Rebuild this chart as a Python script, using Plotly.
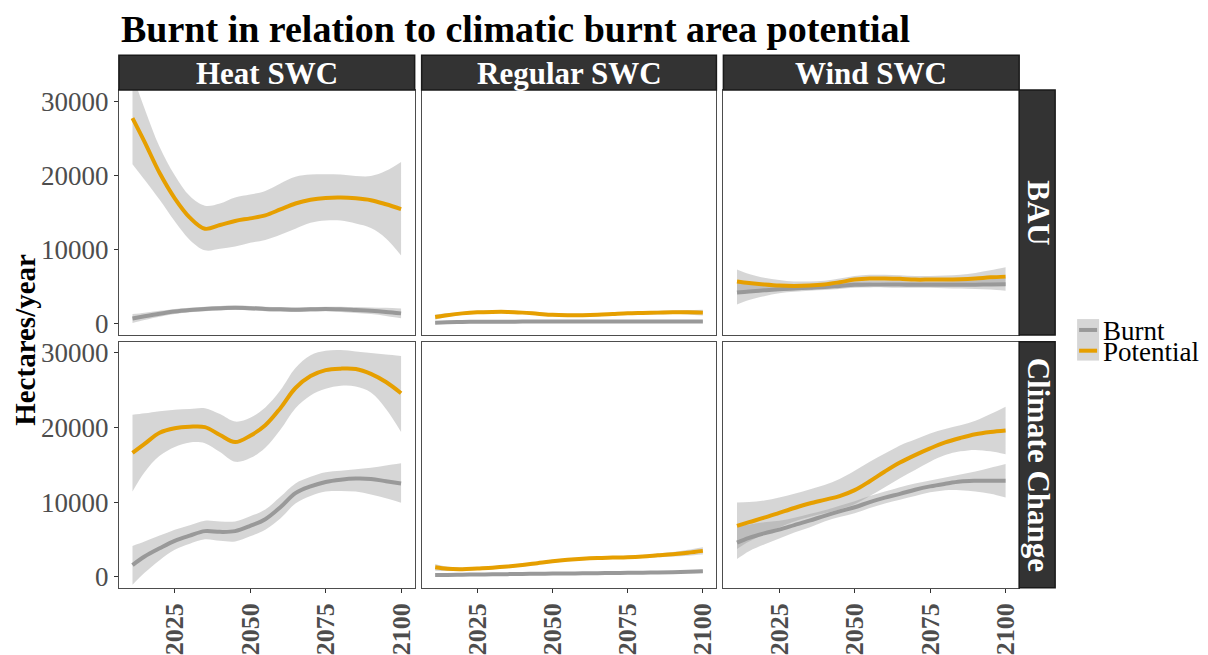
import plotly.graph_objects as go

W, H = 1208, 655
SERIF = "Liberation Serif"

years = [2011, 2015, 2020, 2025, 2030, 2035, 2040, 2045, 2050, 2055,
         2060, 2065, 2070, 2075, 2080, 2085, 2090, 2095, 2100]
strategies = ["Heat SWC", "Regular SWC", "Wind SWC"]
scenarios = ["BAU", "Climate Change"]
series_names = ["Burnt", "Potential"]
x_ticks = [2025, 2050, 2075, 2100]
y_ticks = [0, 10000, 20000, 30000]
y_tick_labels = ["0", "10000", "20000", "30000"]

# --- BAU / Heat SWC
heat_bau_burnt = [700, 1000, 1350, 1650, 1850, 2000, 2100, 2150, 2100, 2000, 1950, 1900, 1950, 2000, 1950, 1850, 1750, 1600, 1400]
heat_bau_burnt_hi = [1300, 1500, 1750, 2000, 2150, 2300, 2400, 2450, 2400, 2300, 2250, 2200, 2250, 2300, 2300, 2250, 2200, 2150, 2050]
heat_bau_burnt_lo = [100, 500, 950, 1300, 1550, 1700, 1800, 1850, 1800, 1700, 1650, 1600, 1650, 1700, 1600, 1450, 1300, 1050, 750]
heat_bau_pot = [27700, 24500, 20300, 16900, 14300, 12800, 13300, 13850, 14200, 14600, 15400, 16200, 16700, 16950, 17000, 16900, 16650, 16100, 15450]
heat_bau_pot_hi = [33500, 29000, 23800, 20000, 17200, 15900, 16200, 17000, 17400, 17900, 18900, 19800, 20100, 20150, 20100, 19900, 19900, 20600, 21800]
heat_bau_pot_lo = [21500, 19400, 16700, 13800, 11300, 9900, 10100, 10400, 10900, 11300, 12000, 12800, 13600, 13900, 13900, 13500, 12900, 11500, 9200]

# --- BAU / Regular SWC
reg_bau_burnt = [150, 200, 250, 270, 280, 285, 290, 290, 290, 290, 290, 290, 290, 295, 295, 300, 300, 300, 300]
reg_bau_burnt_hi = [350, 330, 350, 360, 370, 370, 370, 370, 370, 370, 370, 370, 370, 375, 375, 380, 390, 400, 420]
reg_bau_burnt_lo = [-50, 70, 150, 180, 190, 200, 210, 210, 210, 210, 210, 210, 210, 215, 215, 220, 210, 200, 180]
reg_bau_pot = [900, 1150, 1400, 1550, 1600, 1600, 1500, 1350, 1200, 1150, 1150, 1200, 1300, 1400, 1450, 1500, 1550, 1550, 1500]
reg_bau_pot_hi = [1250, 1400, 1600, 1750, 1800, 1800, 1700, 1550, 1400, 1350, 1350, 1400, 1500, 1600, 1650, 1750, 1800, 1850, 1900]
reg_bau_pot_lo = [550, 900, 1200, 1350, 1400, 1400, 1300, 1150, 1000, 950, 950, 1000, 1100, 1200, 1250, 1250, 1300, 1250, 1100]

# --- BAU / Wind SWC
wind_bau_burnt = [4200, 4350, 4500, 4650, 4750, 4850, 4950, 5100, 5250, 5300, 5300, 5280, 5250, 5250, 5250, 5250, 5270, 5300, 5330]
wind_bau_burnt_hi = [5800, 5500, 5300, 5200, 5200, 5250, 5350, 5500, 5650, 5700, 5700, 5700, 5650, 5650, 5700, 5750, 5850, 6000, 6200]
wind_bau_burnt_lo = [2600, 3200, 3700, 4100, 4300, 4450, 4550, 4700, 4850, 4900, 4900, 4860, 4850, 4850, 4800, 4750, 4700, 4600, 4450]
wind_bau_pot = [5700, 5500, 5300, 5150, 5100, 5150, 5300, 5600, 5950, 6100, 6100, 6050, 5950, 5950, 5950, 6000, 6100, 6250, 6350]
wind_bau_pot_hi = [7300, 6700, 6200, 5900, 5700, 5700, 5800, 6100, 6450, 6600, 6600, 6550, 6450, 6450, 6500, 6600, 6850, 7200, 7600]
wind_bau_pot_lo = [4100, 4300, 4400, 4400, 4500, 4600, 4800, 5100, 5450, 5600, 5600, 5550, 5450, 5450, 5400, 5400, 5350, 5300, 5100]

# --- Climate Change / Heat SWC
heat_cc_burnt = [1550, 2700, 3800, 4800, 5500, 6100, 6000, 6100, 6800, 7700, 9300, 11200, 12100, 12700, 13000, 13150, 13100, 12800, 12500]
heat_cc_burnt_hi = [4100, 4700, 5500, 6300, 6900, 7500, 7400, 7400, 8100, 9000, 10700, 12500, 13400, 14000, 14200, 14400, 14600, 14900, 15200]
heat_cc_burnt_lo = [-1100, 500, 2200, 3600, 4400, 5000, 4800, 4700, 5400, 6300, 7800, 9800, 10800, 11400, 11500, 11400, 11000, 10500, 9900]
heat_cc_pot = [16600, 17800, 19300, 19900, 20100, 20050, 19000, 18050, 18900, 20300, 22600, 25300, 26900, 27700, 27900, 27850, 27200, 26100, 24600]
heat_cc_pot_hi = [21700, 21900, 22200, 22400, 22500, 22600, 21800, 20800, 21300, 22700, 25000, 28000, 29700, 30300, 30400, 30200, 30000, 29800, 29600]
heat_cc_pot_lo = [11400, 14000, 16200, 17400, 18000, 17900, 16700, 15400, 15900, 17300, 19700, 22600, 24300, 25200, 25600, 25500, 24700, 22500, 19400]

# --- Climate Change / Regular SWC
reg_cc_burnt = [200, 220, 250, 280, 300, 330, 350, 380, 400, 420, 440, 460, 480, 500, 520, 550, 590, 640, 700]
reg_cc_burnt_hi = [450, 400, 400, 420, 440, 460, 480, 510, 530, 550, 570, 590, 610, 630, 660, 700, 760, 830, 920]
reg_cc_burnt_lo = [-50, 40, 100, 140, 160, 200, 220, 250, 270, 290, 310, 330, 350, 370, 380, 400, 420, 450, 480]
reg_cc_pot = [1250, 1050, 1000, 1100, 1200, 1350, 1550, 1800, 2050, 2250, 2400, 2500, 2550, 2600, 2700, 2850, 3000, 3200, 3450]
reg_cc_pot_hi = [1700, 1350, 1200, 1300, 1400, 1550, 1750, 2000, 2250, 2450, 2600, 2700, 2750, 2800, 2900, 3100, 3300, 3600, 3950]
reg_cc_pot_lo = [800, 750, 800, 900, 1000, 1150, 1350, 1600, 1850, 2050, 2200, 2300, 2350, 2400, 2500, 2600, 2700, 2800, 2950]

# --- Climate Change / Wind SWC
wind_cc_burnt = [4550, 5200, 5800, 6300, 6900, 7500, 8150, 8750, 9300, 10000, 10600, 11100, 11650, 12100, 12450, 12750, 12850, 12870, 12870]
wind_cc_burnt_hi = [6800, 7000, 7300, 7500, 7900, 8400, 8900, 9500, 10100, 10800, 11400, 12000, 12500, 12900, 13300, 13700, 14100, 14600, 15100]
wind_cc_burnt_lo = [2350, 3400, 4300, 5100, 5900, 6600, 7400, 8000, 8500, 9200, 9800, 10300, 10800, 11300, 11600, 11600, 11400, 11100, 10600]
wind_cc_pot = [6800, 7300, 7900, 8550, 9200, 9800, 10300, 10800, 11600, 12800, 14100, 15300, 16300, 17200, 18000, 18600, 19100, 19400, 19600]
wind_cc_pot_hi = [9950, 10000, 10200, 10600, 11100, 11700, 12300, 13100, 14200, 15400, 16500, 17600, 18400, 19200, 19800, 20300, 20900, 21800, 22800]
wind_cc_pot_lo = [3700, 4700, 5700, 6600, 7400, 8000, 8500, 9000, 9700, 10800, 12000, 13200, 14300, 15400, 16300, 16800, 17000, 16800, 16400]

panels = [
    [(heat_bau_burnt, heat_bau_burnt_lo, heat_bau_burnt_hi, heat_bau_pot, heat_bau_pot_lo, heat_bau_pot_hi),
     (reg_bau_burnt, reg_bau_burnt_lo, reg_bau_burnt_hi, reg_bau_pot, reg_bau_pot_lo, reg_bau_pot_hi),
     (wind_bau_burnt, wind_bau_burnt_lo, wind_bau_burnt_hi, wind_bau_pot, wind_bau_pot_lo, wind_bau_pot_hi)],
    [(heat_cc_burnt, heat_cc_burnt_lo, heat_cc_burnt_hi, heat_cc_pot, heat_cc_pot_lo, heat_cc_pot_hi),
     (reg_cc_burnt, reg_cc_burnt_lo, reg_cc_burnt_hi, reg_cc_pot, reg_cc_pot_lo, reg_cc_pot_hi),
     (wind_cc_burnt, wind_cc_burnt_lo, wind_cc_burnt_hi, wind_cc_pot, wind_cc_pot_lo, wind_cc_pot_hi)],
]

colors = {"Burnt": "#999999", "Potential": "#E69F00"}
ribbon = "rgba(153,153,153,0.4)"
strip_fill = "#333333"

# panel pixel boxes
col_px = [(119, 415), (422, 717), (724, 1020)]
row_px = [(88, 336), (343, 592)]


def fx(px):
    return px / W


def fy(py):
    return 1 - py / H


fig = go.Figure()
layout = {}
shapes = []
annotations = []

for r in range(2):
    for c in range(3):
        k = r * 3 + c + 1
        xa = "x" if k == 1 else f"x{k}"
        ya = "y" if k == 1 else f"y{k}"
        b, b_lo, b_hi, p, p_lo, p_hi = panels[r][c]
        for name, mid, lo, hi in [("Burnt", b, b_lo, b_hi), ("Potential", p, p_lo, p_hi)]:
            fig.add_trace(go.Scatter(x=years, y=lo, mode="lines", line=dict(width=0, shape="spline"),
                                     xaxis=xa, yaxis=ya, showlegend=False, hoverinfo="skip"))
            fig.add_trace(go.Scatter(x=years, y=hi, mode="lines", line=dict(width=0, shape="spline"),
                                     fill="tonexty", fillcolor=ribbon,
                                     xaxis=xa, yaxis=ya, showlegend=False, hoverinfo="skip"))
            fig.add_trace(go.Scatter(x=years, y=mid, mode="lines", name=name,
                                     line=dict(color=colors[name], width=4, shape="spline"),
                                     xaxis=xa, yaxis=ya, showlegend=False))

        x0, x1 = col_px[c]
        y0, y1 = row_px[r]
        xkey = "xaxis" if k == 1 else f"xaxis{k}"
        ykey = "yaxis" if k == 1 else f"yaxis{k}"
        layout[xkey] = dict(
            domain=[fx(x0), fx(x1)], anchor=ya, range=[2006.5, 2104.5],
            showgrid=False, zeroline=False, showline=True, mirror=True,
            linecolor="#4d4d4d", linewidth=1,
            tickvals=x_ticks, ticktext=[str(v) for v in x_ticks],
            ticks="outside" if r == 1 else "", ticklen=4,
            tickcolor="#333333", showticklabels=(r == 1), tickangle=-90,
            tickfont=dict(family=SERIF, size=26, color="#4d4d4d", weight="bold"),
        )
        layout[ykey] = dict(
            domain=[fy(y1), fy(y0)], anchor=xa, range=[-1500, 31500],
            showgrid=False, zeroline=False, showline=True, mirror=True,
            linecolor="#4d4d4d", linewidth=1,
            tickvals=y_ticks, ticktext=y_tick_labels,
            ticks="outside" if c == 0 else "", ticklen=4,
            tickcolor="#333333", showticklabels=(c == 0),
            tickfont=dict(family=SERIF, size=27, color="#4d4d4d"),
        )

# top strips
for c, lab in enumerate(strategies):
    x0, x1 = col_px[c]
    shapes.append(dict(type="rect", xref="paper", yref="paper",
                       x0=fx(x0), x1=fx(x1), y0=fy(88), y1=fy(53),
                       fillcolor=strip_fill, line=dict(color="#1a1a1a", width=1.5)))
    annotations.append(dict(text=f"<b>{lab}</b>", xref="paper", yref="paper",
                            x=fx((x0 + x1) / 2), y=fy(71), showarrow=False,
                            xanchor="center", yanchor="middle",
                            font=dict(family=SERIF, size=31, color="white")))

# right strips
for r, lab in enumerate(scenarios):
    y0, y1 = row_px[r]
    shapes.append(dict(type="rect", xref="paper", yref="paper",
                       x0=fx(1020), x1=fx(1056), y0=fy(y1), y1=fy(y0),
                       fillcolor=strip_fill, line=dict(color="#1a1a1a", width=1.5)))
    annotations.append(dict(text=f"<b>{lab}</b>", xref="paper", yref="paper",
                            x=fx(1039), y=fy((y0 + y1) / 2), showarrow=False,
                            textangle=90, xanchor="center", yanchor="middle",
                            font=dict(family=SERIF, size=31, color="white")))

# legend (drawn by hand to match ggplot keys)
shapes.append(dict(type="rect", xref="paper", yref="paper",
                   x0=fx(1078), x1=fx(1100), y0=fy(362), y1=fy(320),
                   fillcolor="#d6d6d6", line=dict(width=0)))
for i, name in enumerate(series_names):
    ky = 331 + i * 21
    shapes.append(dict(type="line", xref="paper", yref="paper",
                       x0=fx(1080), x1=fx(1098), y0=fy(ky), y1=fy(ky),
                       line=dict(color=colors[name], width=4)))
    annotations.append(dict(text=name, xref="paper", yref="paper",
                            x=fx(1102), y=fy(ky + 1), showarrow=False,
                            xanchor="left", yanchor="middle",
                            font=dict(family=SERIF, size=27, color="black")))

# title and y-axis title
annotations.append(dict(text="<b>Burnt in relation to climatic burnt area potential</b>",
                        xref="paper", yref="paper", x=fx(119), y=fy(26),
                        xanchor="left", yanchor="middle", showarrow=False,
                        font=dict(family=SERIF, size=38, color="black")))
annotations.append(dict(text="<b>Hectares/year</b>", xref="paper", yref="paper",
                        x=fx(25), y=fy(341), textangle=-90, showarrow=False,
                        xanchor="center", yanchor="middle",
                        font=dict(family=SERIF, size=29, color="black")))

fig.update_layout(
    width=W, height=H,
    margin=dict(l=0, r=0, t=0, b=0),
    paper_bgcolor="white", plot_bgcolor="white",
    showlegend=False,
    shapes=shapes, annotations=annotations,
    **layout,
)

# page body margin would push the figure 8px down/right
fig.write_html("out.html", config={"displayModeBar": False},
               post_script="document.body.style.margin='0';")
